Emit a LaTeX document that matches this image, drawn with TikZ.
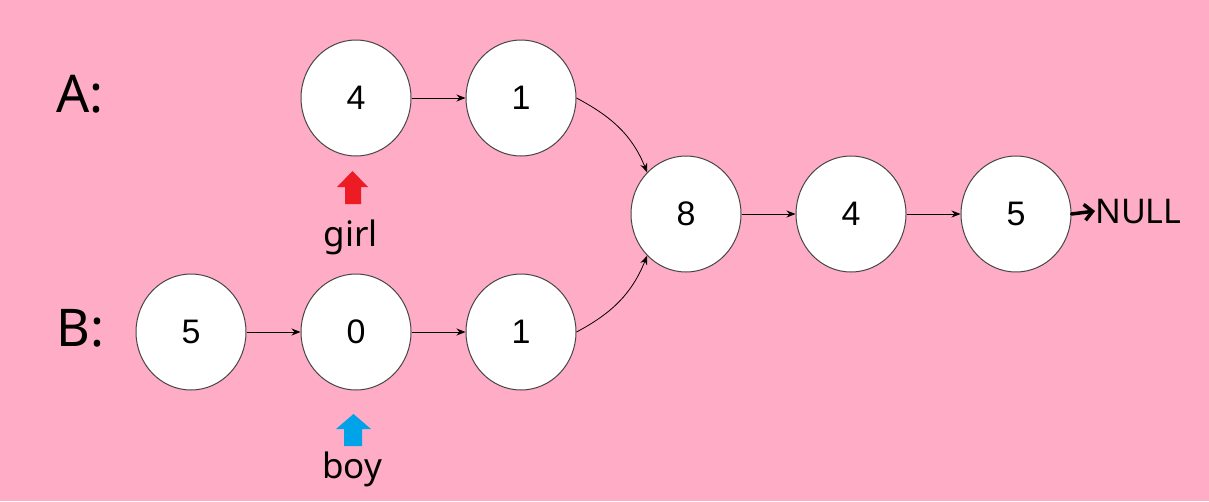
\documentclass[tikz,border=0pt]{standalone}
\usepackage{fontspec}
\setmainfont{Noto Sans}
\newfontfamily\digitfont{Liberation Sans}
\usetikzlibrary{shapes.geometric,arrows.meta}
\definecolor{bgpink}{RGB}{255,172,199}
\definecolor{ptrred}{RGB}{237,28,36}
\definecolor{ptrblue}{RGB}{0,162,232}
\definecolor{rimgray}{RGB}{70,70,70}
\tikzset{
  listnode/.style={ellipse, draw=rimgray, line width=1pt, fill=white, minimum width=110pt, minimum height=116pt, inner sep=0pt, font=\digitfont\fontsize{34}{34}\selectfont},
  link/.style={-{Stealth[length=9pt,width=7pt]}, line width=0.8pt},
  rowlabel/.style={anchor=base west, inner sep=0pt, font=\fontsize{52}{52}\selectfont},
  ptrlabel/.style={anchor=base, inner sep=0pt, font=\fontsize{35}{35}\selectfont}
}
\begin{document}
\begin{tikzpicture}[x=1pt,y=1pt]
\fill[bgpink] (0,0) rectangle (1209,-501);
\useasboundingbox (0,0) rectangle (1209,-501);

\node[rowlabel] (la) at (56,-112) {A:};
\node[rowlabel] (lb) at (56,-346) {B:};

\node[listnode] (a4) at (356,-98) {4};
\node[listnode] (a1) at (521,-98) {1};
\node[listnode] (c8) at (686,-214) {8};
\node[listnode] (c4) at (851,-214) {4};
\node[listnode] (c5) at (1016,-214) {5};
\node[listnode] (b5) at (191,-332) {5};
\node[listnode] (b0) at (356,-332) {0};
\node[listnode] (b1) at (521,-332) {1};

\node[anchor=base west, inner sep=0pt, font=\fontsize{34}{34}\selectfont] (null) at (1095,-223) {NULL};

\draw[link] (a4) -- (a1);
\draw[link] (b5) -- (b0);
\draw[link] (b0) -- (b1);
\draw[link] (c8) -- (c4);
\draw[link] (c4) -- (c5);
\draw[link] (a1.east) to[out=-28,in=112] (c8.133);
\draw[link] (b1.east) to[out=28,in=-112] (c8.-133);
\draw[-{Straight Barb[length=8pt,width=16pt]}, line width=3.5pt, line cap=round] (c5.east) -- (null.west);

% pointer arrows
\fill[ptrred] (337,-187) -- (352.5,-171) -- (368,-187) -- (361,-187) -- (361,-204) -- (345,-204) -- (345,-187) -- cycle;
\fill[ptrblue] (336,-429) -- (353.5,-414) -- (371,-429) -- (362,-429) -- (362,-446) -- (344,-446) -- (344,-429) -- cycle;
\node[ptrlabel] (girl) at (351,-246) {girl};
\node[ptrlabel] (boy) at (352,-478) {boy};
\end{tikzpicture}
\end{document}
